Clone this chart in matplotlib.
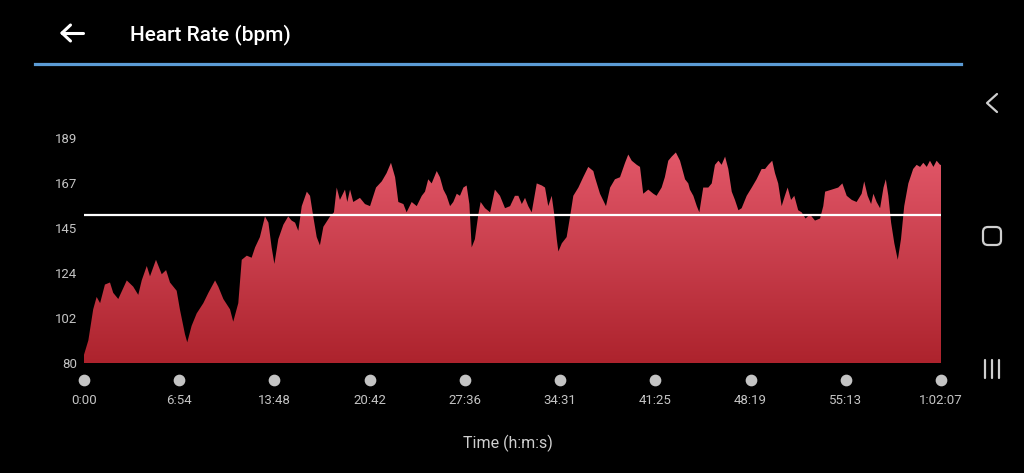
import numpy as np
import matplotlib
matplotlib.use("Agg")
import matplotlib.pyplot as plt
from matplotlib.colors import LinearSegmentedColormap
from matplotlib.lines import Line2D
from matplotlib.patches import Polygon, FancyBboxPatch
from matplotlib.transforms import blended_transform_factory

plt.rcParams['font.family'] = ['Roboto', 'DejaVu Sans']

# heart rate samples: elapsed seconds, bpm
t_sec = [0, 19, 40, 55, 70, 91, 113, 127, 149, 186, 214, 236, 251, 273, 287, 313,
         338, 357, 374, 403, 417, 439, 449, 468, 490, 519, 541, 570, 584, 606, 635,
         649, 671, 686, 708, 729, 744, 765, 787, 802, 816, 828, 845, 867, 888, 903,
         918, 932, 947, 969, 983, 997, 1012, 1026, 1041, 1070, 1087, 1099, 1113,
         1135, 1145, 1157, 1171, 1200, 1222, 1244, 1270, 1295, 1316, 1335, 1353,
         1367, 1389, 1403, 1425, 1447, 1469, 1483, 1497, 1512, 1534, 1548, 1563,
         1577, 1592, 1606, 1621, 1635, 1650, 1664, 1676, 1686, 1700, 1715, 1725,
         1744, 1766, 1787, 1809, 1831, 1853, 1874, 1889, 1904, 1918, 1932, 1947,
         1969, 1991, 2005, 2019, 2034, 2044, 2056, 2063, 2078, 2099, 2114, 2128,
         2150, 2171, 2193, 2215, 2222, 2244, 2270, 2288, 2309, 2331, 2353, 2367,
         2382, 2404, 2418, 2432, 2454, 2476, 2490, 2512, 2526, 2541, 2556, 2574,
         2592, 2614, 2628, 2635, 2650, 2665, 2676, 2693, 2715, 2730, 2744, 2759,
         2773, 2788, 2802, 2817, 2831, 2846, 2860, 2882, 2904, 2925, 2947, 2962,
         2976, 2993, 3005, 3019, 3034, 3048, 3060, 3075, 3089, 3106, 3121, 3138,
         3157, 3179, 3201, 3215, 3223, 3252, 3280, 3298, 3317, 3339, 3360, 3382,
         3393, 3408, 3423, 3433, 3447, 3462, 3477, 3487, 3498, 3510, 3524, 3539,
         3553, 3567, 3585, 3606, 3621, 3636, 3650, 3665, 3679, 3694, 3708, 3723,
         3727]
bpm = [84, 91, 106, 112, 109, 118, 119, 114, 111, 120, 117, 113, 120, 127, 122, 130,
       123, 125, 119, 115, 106, 94, 90, 98, 104, 109, 114, 120, 117, 111, 106,
       100, 109, 130, 132, 131, 136, 141, 151, 148, 136, 128, 140, 147, 151, 149,
       148, 144, 156, 163, 161, 151, 141, 137, 146, 151, 153, 165, 159,
       164, 158, 164, 158, 160, 157, 156, 165, 168, 172, 177, 170,
       158, 157, 153, 158, 156, 161, 163, 169, 167, 173, 170, 164,
       161, 156, 158, 162, 161, 165, 166, 157, 136, 140, 152, 158,
       155, 153, 164, 161, 155, 156, 161, 161, 157, 160, 156, 153,
       167, 166, 165, 156, 161, 153, 140, 134, 138, 141, 151, 161,
       165, 170, 175, 173, 170, 162, 156, 165, 169, 170, 177, 181,
       178, 176, 175, 162, 164, 162, 161, 165, 170, 178, 180, 182,
       178, 169, 167, 164, 161, 156, 153, 165, 165, 167, 176, 178,
       176, 180, 174, 163, 159, 154, 155, 161, 165, 169, 174, 174,
       176, 178, 172, 167, 156, 161, 165, 159, 161, 154, 153, 150,
       152, 149, 150, 156, 163, 164, 165, 167, 161, 159, 158, 162,
       168, 161, 157, 162, 158, 155, 165, 169, 161, 148, 138, 130,
       140, 156, 167, 174, 176, 175, 177, 175, 178, 175, 178, 176,
       176]
avg_bpm = 151.5
total_sec = 3727
y_min, y_max = 80, 189
n_xticks = 10


def hms(s):
    s = int(round(s))
    h, rem = divmod(s, 3600)
    m, sec = divmod(rem, 60)
    if h:
        return f"{h}:{m:02d}:{sec:02d}"
    return f"{m}:{sec:02d}"


W, H = 1024, 473
fig = plt.figure(figsize=(W / 100, H / 100), dpi=100, facecolor="black")


def px(x, y):
    return x / W, 1 - y / H


ax = fig.add_axes([84 / W, 110 / H, 857 / W, 225 / H], facecolor="black")
ax.set_xlim(0, total_sec)
ax.set_ylim(y_min, y_max)
for sp in ax.spines.values():
    sp.set_visible(False)

# gradient filled area
cmap = LinearSegmentedColormap.from_list("hr", ["#ad232d", "#e65b6d"])
grad = np.linspace(0, 1, 256).reshape(-1, 1)
im = ax.imshow(grad, cmap=cmap, origin="lower", aspect="auto",
               extent=(0, total_sec, y_min, y_max), zorder=1)
verts = [(0, y_min)] + list(zip(t_sec, bpm)) + [(total_sec, y_min)]
poly = Polygon(verts, closed=True, facecolor="none", edgecolor="none")
ax.add_patch(poly)
im.set_clip_path(poly)

ax.axhline(avg_bpm, color="white", lw=1.6, zorder=3)

# ticks
yt = np.linspace(y_min, y_max, 6)
ax.set_yticks(yt)
ax.set_yticklabels([f"{v:.0f}" for v in yt])
xt = np.linspace(0, total_sec, n_xticks)
ax.set_xticks(xt)
ax.set_xticklabels([hms(v) for v in xt])
ax.tick_params(axis="both", length=0, colors="#c4c4c4", labelsize=9.5)
ax.tick_params(axis="y", pad=5)
ax.tick_params(axis="x", pad=22)

trans = blended_transform_factory(ax.transData, ax.transAxes)
ax.scatter(xt, [-0.077] * len(xt), s=55, color="#c4c4c4", transform=trans,
           clip_on=False, zorder=5)

fig.text(*px(508, 443), "Time (h:m:s)", color="#cfcfcf", fontsize=11.5,
         ha="center", va="center")

# header
fig.text(*px(130, 40), "Heart Rate (bpm)", color="white", fontsize=15,
         fontweight="medium", ha="left", va="baseline")
ac = dict(color="white", lw=2.2, solid_capstyle="round", transform=fig.transFigure)
for (x0, y0), (x1, y1) in [((62, 33), (83, 33)), ((62, 33), (70.5, 25)),
                           ((62, 33), (70.5, 41))]:
    fig.add_artist(Line2D([px(x0, y0)[0], px(x1, y1)[0]],
                          [px(x0, y0)[1], px(x1, y1)[1]], **ac))
fig.add_artist(Line2D([px(35, 64)[0], px(961, 64)[0]], [px(35, 64)[1]] * 2,
                      color="#5b9bd5", lw=2.3, transform=fig.transFigure))

# navigation bar
nc = dict(color="#cfcfcf", lw=1.6, solid_capstyle="round", transform=fig.transFigure)
fig.add_artist(Line2D([px(997, 94)[0], px(987, 103)[0], px(997, 112)[0]],
                      [px(997, 94)[1], px(987, 103)[1], px(997, 112)[1]], **nc))
# rounded square drawn in inches so the corners stay round
fig.add_artist(FancyBboxPatch((9.83, (H - 245) / 100), 0.18, 0.18,
                              boxstyle="round,pad=0,rounding_size=0.05",
                              fill=False, edgecolor="#cfcfcf", lw=1.6,
                              transform=fig.dpi_scale_trans))
for xb in (985, 992, 999):
    fig.add_artist(Line2D([px(xb, 360)[0]] * 2, [px(xb, 360)[1], px(xb, 378)[1]], **nc))

fig.savefig("out.png", dpi=100, facecolor="black")
